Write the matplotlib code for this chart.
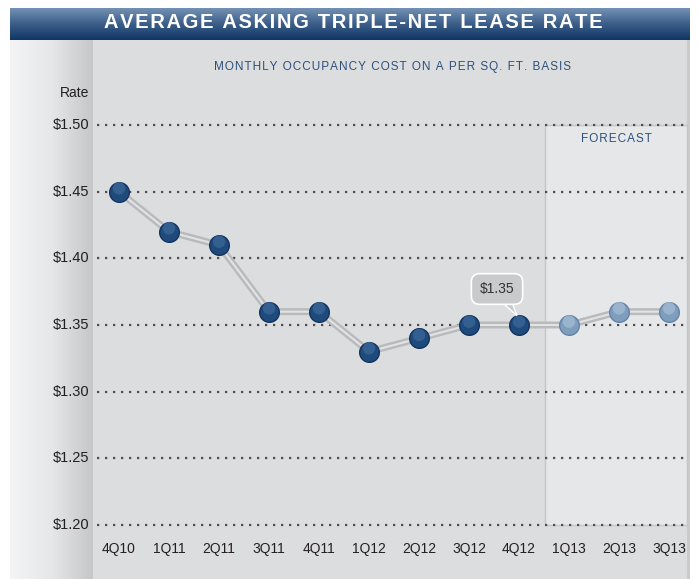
import numpy as np
import matplotlib
matplotlib.use("Agg")
import matplotlib.pyplot as plt
from matplotlib.patches import Rectangle, Polygon
from matplotlib.colors import LinearSegmentedColormap

# data
quarters = ["4Q10", "1Q11", "2Q11", "3Q11", "4Q11", "1Q12",
            "2Q12", "3Q12", "4Q12", "1Q13", "2Q13", "3Q13"]
rates = [1.45, 1.42, 1.41, 1.36, 1.36, 1.33, 1.34, 1.35, 1.35, 1.35, 1.36, 1.36]
n_actual = 9  # first 9 are actual, rest forecast
yticks = [1.20, 1.25, 1.30, 1.35, 1.40, 1.45, 1.50]
ytick_labels = ["$1.20", "$1.25", "$1.30", "$1.35", "$1.40", "$1.45", "$1.50"]
callout_idx = 8
callout_text = "$1.35"
title = "AVERAGE ASKING TRIPLE-NET LEASE RATE"
subtitle = "MONTHLY OCCUPANCY COST ON A PER SQ. FT. BASIS"

plt.rcParams['font.family'] = ['Liberation Sans', 'DejaVu Sans']


def tracked(s):
    # hair space between letters to mimic the wide letter spacing
    return "\u200a".join(s)


W, H = 699, 579
fig = plt.figure(figsize=(W / 100, H / 100), dpi=100)
ax = fig.add_axes([0, 0, 1, 1])
ax.set_axis_off()

# index 0 at x=119px, 50px per step; 1.50 at y=125px, 1.20 at y=525px
px_per_x = 50.0
x0_px = 119.0
ypx_per_unit = 400.0 / 0.30
ax.set_xlim(-x0_px / px_per_x, (W - x0_px) / px_per_x)
ax.set_ylim(1.50 - (H - 125) / ypx_per_unit, 1.50 + 125 / ypx_per_unit)


def px(x, y):
    # pixel (from top-left) to data coords, for frame decoration
    return (x - x0_px) / px_per_x, 1.50 - (y - 125) / ypx_per_unit


tr = ax.transAxes


def ax_box(x1, y1, x2, y2):
    return [x1 / W, x2 / W, 1 - y2 / H, 1 - y1 / H]


# left gradient strip
grad = np.linspace(0, 1, 100).reshape(1, -1)
strip_cmap = LinearSegmentedColormap.from_list("strip", ["#f4f4f5", "#e6e7e8", "#c6c7c9"])
ax.imshow(grad, extent=ax_box(10, 40, 93, H), transform=tr, cmap=strip_cmap,
          aspect="auto", zorder=0)
# main panel
ax.add_patch(Rectangle((93 / W, 0), (690 - 93) / W, 1 - 40 / H, transform=tr,
                       facecolor="#dcdddf", edgecolor="none", zorder=0))
ax.add_patch(Rectangle((687 / W, 0), 3 / W, 1 - 40 / H, transform=tr,
                       facecolor="#c9cacc", edgecolor="none", zorder=0))
# banner
banner_cmap = LinearSegmentedColormap.from_list("banner", ["#7391b3", "#3b5e89", "#113664"])
ax.imshow(np.linspace(0, 1, 100).reshape(-1, 1), extent=ax_box(10, 8, 690, 40),
          transform=tr, cmap=banner_cmap, aspect="auto", zorder=1)

# forecast region
fx1, fy1 = px(545, 125)
fx2, fy2 = px(687, 525)
ax.add_patch(Rectangle((fx1, fy2), fx2 - fx1, fy1 - fy2, facecolor="#e6e7e9",
                       edgecolor="#c4c5c7", linewidth=1, zorder=1))
ax.text((fx1 + fx2) / 2, px(0, 139)[1], tracked("FORECAST"), ha="center", va="center",
        fontsize=8.5, color="#2d4f7c", zorder=3)

# gridlines
gx1 = px(97, 0)[0]
gx2 = px(687, 0)[0]
ax.hlines(yticks, gx1, gx2, colors="#4d4d4f", linestyles=(0, (1, 2.6)),
          linewidth=1.6, zorder=2)

# y tick labels
for v, lab in zip(yticks, ytick_labels):
    ax.text(px(89, 0)[0], v, lab, ha="right", va="center", fontsize=10.5, color="#231f20")
ax.text(px(89, 0)[0], px(0, 93)[1], "Rate", ha="right", va="center", fontsize=10,
        color="#231f20")

# x tick labels
xs = np.arange(len(quarters))
for x, q in zip(xs, quarters):
    ax.text(x, px(0, 549)[1], q, ha="center", va="center", fontsize=10, color="#231f20")

# titles
ax.text(px(353, 0)[0], px(0, 23)[1], tracked(title),
        ha="center", va="center", fontsize=14.5, fontweight="bold", color="white", zorder=3)
ax.text(px(393, 0)[0], px(0, 67)[1], tracked(subtitle),
        ha="center", va="center", fontsize=8.5, color="#2d4f7c", zorder=3)

# line
ax.plot(xs, rates, color="#b9babc", linewidth=5, solid_joinstyle="round", zorder=3)
ax.plot(xs, rates, color="#e2e3e4", linewidth=1.5, solid_joinstyle="round", zorder=3)

# markers
ax.scatter(xs[:n_actual], rates[:n_actual], s=200, color="#1f4a7c",
           edgecolors="#123360", linewidths=1, zorder=4)
ax.scatter(xs[:n_actual], np.array(rates[:n_actual]) + 0.0025, s=80, color="#3a6597",
           edgecolors="none", alpha=0.8, zorder=5)
ax.scatter(xs[n_actual:], rates[n_actual:], s=200, color="#7f9dbd",
           edgecolors="#6384a8", linewidths=1, zorder=4)
ax.scatter(xs[n_actual:], np.array(rates[n_actual:]) + 0.0025, s=80, color="#a3bbd3",
           edgecolors="none", alpha=0.8, zorder=5)

# callout
cx = callout_idx - 0.44
cy = rates[callout_idx] + 0.027
ax.text(cx, cy, callout_text, ha="center", va="center", fontsize=10, color="#333333", zorder=7,
        bbox=dict(boxstyle="round,pad=0.6,rounding_size=0.6", facecolor="#c9cacc",
                  edgecolor="white", linewidth=1.2))
tail = Polygon([(cx + 0.1, cy - 0.01), (cx + 0.3, cy - 0.01),
                (callout_idx - 0.04, rates[callout_idx] + 0.007)],
               closed=True, facecolor="#c9cacc", edgecolor="white", linewidth=1, zorder=6)
ax.add_patch(tail)

fig.savefig("out.png", dpi=100)
